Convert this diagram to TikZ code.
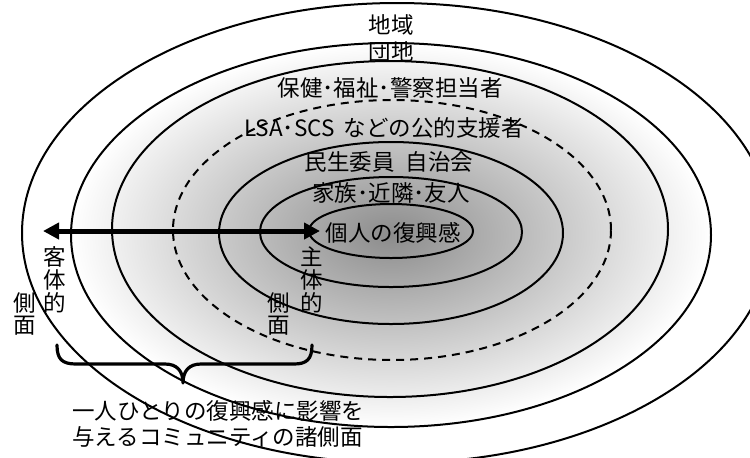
\documentclass[tikz,border=0pt]{standalone}
\usepackage{fontspec}
\setmainfont{Noto Sans CJK JP}
\usetikzlibrary{arrows.meta}
\begin{document}
\begin{tikzpicture}[x=0.5pt,y=-0.5pt,
  ring/.style={line width=1pt},
  dashring/.style={line width=1pt, dash pattern=on 4pt off 3pt},
  lbl/.style={inner sep=0pt, font=\fontsize{11.25pt}{13pt}\selectfont},
  bigarrow/.style={line width=2.5pt, {Triangle[length=8pt,width=8pt]}-{Triangle[length=8pt,width=8pt]}},
  bracestyle/.style={line width=1.6pt, line cap=round, line join=round}]
\useasboundingbox (0,0) rectangle (750,457);
\begin{scope}
\clip (0,0) rectangle (750,457);
% shading
\shade[inner color=black!45, outer color=white] (391,235) ellipse [x radius=160pt, y radius=96pt];
% rings
\draw[ring] (397,233) ellipse [x radius=187.5pt, y radius=115pt];
\draw[ring] (391,235) ellipse [x radius=160pt, y radius=96pt];
\draw[ring] (390,229) ellipse [x radius=139pt, y radius=84pt];
\draw[dashring] (392,230) ellipse [x radius=109.5pt, y radius=65pt];
\draw[ring] (391,233) ellipse [x radius=86pt, y radius=45.5pt];
\draw[ring] (391,232) ellipse [x radius=65.5pt, y radius=27.5pt];
\draw[ring] (391,231) ellipse [x radius=41pt, y radius=13.5pt];
\end{scope}
% labels
\node[lbl] (chiiki) at (391,25) {地域};
\node[lbl] (danchi) at (391,52) {団地};
\node[lbl] (hoken) at (390,88) {保健･福祉･警察担当者};
\node[lbl] (lsa) at (384,128) {LSA･SCS\hspace{0.4em}などの公的支援者};
\node[lbl] (minsei) at (389,162) {民生委員\hspace{0.5em}自治会};
\node[lbl] (kazoku) at (391,193) {家族･近隣･友人};
\node[lbl] (kojin) at (393,233) {個人の復興感};
% vertical labels left
\node[lbl] (k1) at (55,257) {客};
\node[lbl] (k2) at (55,280) {体};
\node[lbl] (k3) at (55,303) {的};
\node[lbl] (k4) at (25,303) {側};
\node[lbl] (k5) at (25,326) {面};
% vertical labels right
\node[lbl] (s1) at (312,257) {主};
\node[lbl] (s2) at (312,280) {体};
\node[lbl] (s3) at (312,303) {的};
\node[lbl] (s4) at (279,303) {側};
\node[lbl] (s5) at (279,326) {面};
% arrow
\coordinate (aL) at (43,231);
\coordinate (aR) at (320,231);
\draw[bigarrow] (aL) -- (aR);
% brace
\draw[bracestyle] (57,345) .. controls (57,359) and (62,364) .. (76,364) -- (165,364)
  .. controls (177,364) and (183,371) .. (183,383)
  .. controls (183,371) and (189,364) .. (201,364) -- (294,364)
  .. controls (307,364) and (312,359) .. (312,345);
% bottom caption
\node[lbl, anchor=west] (cap1) at (72,411) {一人ひとりの復興感に影響を};
\node[lbl, anchor=west] (cap2) at (72,437) {与えるコミュニティの諸側面};
\end{tikzpicture}
\end{document}
